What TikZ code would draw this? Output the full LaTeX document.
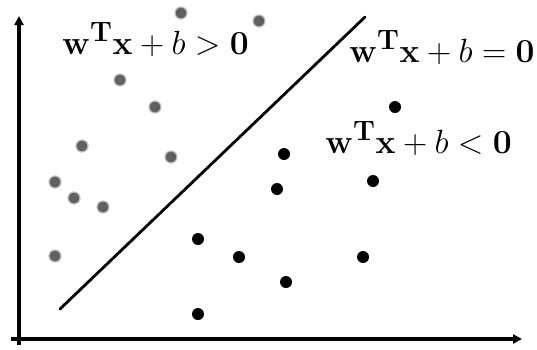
\documentclass[tikz,border=0pt]{standalone}
\usetikzlibrary{arrows.meta}
\begin{document}
\begin{tikzpicture}[x=1pt,y=-1pt,
  axis/.style={line width=3.6pt,-{Triangle[length=9pt,width=9pt]}},
  sep/.style={line width=2.8pt,line cap=round},
  gdot/.style={circle,fill=black!62,draw=black!25,line width=1.2pt,minimum size=12pt,inner sep=0pt},
  bdot/.style={circle,fill=black,minimum size=12pt,inner sep=0pt},
  lab/.style={font=\fontsize{24.88}{30}\selectfont,inner sep=0pt,anchor=base west,scale=1.35}]
\useasboundingbox (0,0) rectangle (537,349);
\coordinate (o) at (19,339);
\coordinate (ytip) at (19,16);
\coordinate (xs) at (11,339);
\coordinate (xtip) at (522,339);
\draw[axis] (19,345) -- (ytip);
\draw[axis] (xs) -- (xtip);
\coordinate (l1) at (60,309);
\coordinate (l2) at (365,17);
\draw[sep] (l1) -- (l2);
% gray points
\node[gdot] (g1) at (181,13) {};
\node[gdot] (g2) at (259,21) {};
\node[gdot] (g3) at (120,80) {};
\node[gdot] (g4) at (155,107) {};
\node[gdot] (g5) at (82,146) {};
\node[gdot] (g6) at (171,157) {};
\node[gdot] (g7) at (55,182) {};
\node[gdot] (g8) at (74,198) {};
\node[gdot] (g9) at (103,207) {};
\node[gdot] (g10) at (55,256) {};
% black points
\node[bdot] (b1) at (395,107) {};
\node[bdot] (b2) at (284,154) {};
\node[bdot] (b3) at (277,189) {};
\node[bdot] (b4) at (373,181) {};
\node[bdot] (b5) at (198,239) {};
\node[bdot] (b6) at (239,257) {};
\node[bdot] (b7) at (363,257) {};
\node[bdot] (b8) at (286,282) {};
\node[bdot] (b9) at (198,314) {};
% labels
\node[lab] (t1) at (62,54) {$\mathbf{w}^{\mathbf{T}}\mathbf{x}+b>\mathbf{0}$};
\node[lab] (t2) at (349,62) {$\mathbf{w}^{\mathbf{T}}\mathbf{x}+b=\mathbf{0}$};
\node[lab] (t3) at (325,153) {$\mathbf{w}^{\mathbf{T}}\mathbf{x}+b<\mathbf{0}$};
\end{tikzpicture}
\end{document}
